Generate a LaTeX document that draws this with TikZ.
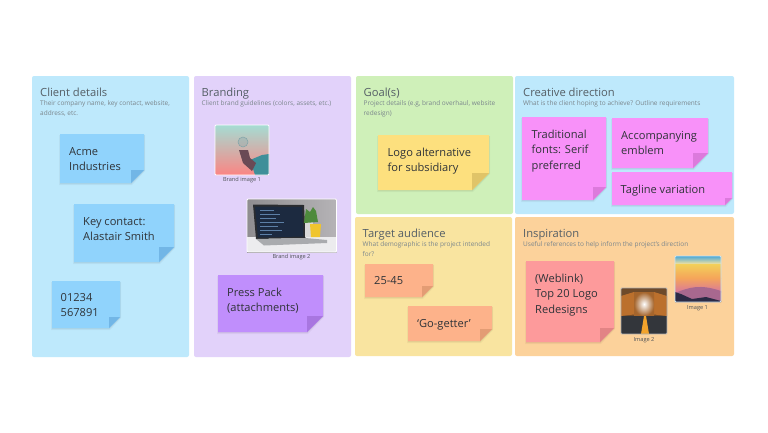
\documentclass[tikz,border=0pt]{standalone}
\usepackage{fontspec}
\setmainfont{Open Sans}
\definecolor{pblue}{HTML}{BEE9FC}
\definecolor{ppurple}{HTML}{E2D2FA}
\definecolor{pgreen}{HTML}{CFF0B9}
\definecolor{pyellow}{HTML}{F9E4A0}
\definecolor{porange}{HTML}{FCD29B}
\definecolor{nblue}{HTML}{90D3FC}
\definecolor{nblued}{HTML}{72B6E6}
\definecolor{npurple}{HTML}{C08EFC}
\definecolor{npurpled}{HTML}{A876E0}
\definecolor{nyellow}{HTML}{FDE07E}
\definecolor{nyellowd}{HTML}{E0C468}
\definecolor{npink}{HTML}{F891F9}
\definecolor{npinkd}{HTML}{DC7ADC}
\definecolor{npeach}{HTML}{FDB28A}
\definecolor{npeachd}{HTML}{E39C74}
\definecolor{nred}{HTML}{FD9A9B}
\definecolor{nredd}{HTML}{E28485}
\definecolor{ttl}{HTML}{555F66}
\definecolor{subt}{HTML}{7B868C}
\definecolor{ink}{HTML}{2F3338}
% picture colours
\definecolor{iteal}{HTML}{A5DCD3}
\definecolor{imid}{HTML}{E8C4BC}
\definecolor{icoral}{HTML}{FB8583}
\definecolor{iarm}{HTML}{3E8F99}
\definecolor{ihand}{HTML}{6A4A55}
\definecolor{ibulb}{HTML}{7FA3A8}
\definecolor{iwalll}{HTML}{8F8D90}
\definecolor{iwallr}{HTML}{B5B3B6}
\definecolor{idesk}{HTML}{ECECEE}
\definecolor{ilap}{HTML}{2A2C30}
\definecolor{iscreen}{HTML}{1C2A40}
\definecolor{icode}{HTML}{5C7FA6}
\definecolor{ibase}{HTML}{A9ABAE}
\definecolor{iplant}{HTML}{4E8A3C}
\definecolor{ipot}{HTML}{F0C52E}
\definecolor{iskyt}{HTML}{4BA8D8}
\definecolor{iskya}{HTML}{F3D05A}
\definecolor{iskyb}{HTML}{F5A55A}
\definecolor{ihill}{HTML}{D9789A}
\definecolor{ihilld}{HTML}{A8688F}
\definecolor{imtn}{HTML}{2C2A45}
\definecolor{itrees}{HTML}{6E4A2A}
\definecolor{ileaf}{HTML}{C9772E}
\definecolor{iroad}{HTML}{33363B}
\definecolor{iline}{HTML}{F2A32C}
\tikzset{
  x=1pt,y=-1pt,
  panel/.style={rounded corners=2pt,draw=none},
  paneltitle/.style={anchor=base west,inner sep=0pt,font=\fontsize{11.2}{14}\selectfont,text=ttl},
  panelsub/.style={anchor=north west,inner sep=0pt,align=left,font=\fontsize{6.5}{9.4}\selectfont,text=subt},
  notetext/.style={anchor=north west,inner sep=0pt,align=left,font=\fontsize{11.1}{15.2}\selectfont,text=ink},
  caption/.style={inner sep=0pt,font=\fontsize{5.6}{6}\selectfont,text=ink!85},
  frame/.style={draw=white,line width=.8pt,rounded corners=1pt},
}
% #1 name, #2 x0, #3 y0, #4 x1, #5 y1, #6 fill, #7 fold colour, #8 fold size
\newcommand{\stickynote}[8]{%
  \fill[black,opacity=.04] (#2-1,#3+1) -- (#4+1,#3+1) -- (#4+1,#5-#8+1) -- (#4-#8+1,#5+2) -- (#2-1,#5+2) -- cycle;
  \fill[black,opacity=.05] (#2,#3+1) -- (#4+.5,#3+1) -- (#4+.5,#5-#8+.5) -- (#4-#8+.5,#5+1) -- (#2,#5+1) -- cycle;
  \path[fill=#6] (#2,#3) -- (#4,#3) -- (#4,#5-#8) -- (#4-#8,#5) -- (#2,#5) -- cycle;
  \path[fill=#7] (#4,#5-#8) -- (#4-#8,#5-#8) -- (#4-#8,#5) -- cycle;
  \coordinate (#1) at (#2,#3);
}
\begin{document}
\begin{tikzpicture}
\useasboundingbox[fill=white] (0,0) rectangle (768,432);
% panels
\fill[panel,pblue] (32,76) rectangle (189,357);
\fill[panel,ppurple] (194,76) rectangle (351,357);
\fill[panel,pgreen] (356,76) rectangle (513,214);
\fill[panel,pblue] (515,76) rectangle (734,214);
\fill[panel,pyellow] (355,217) rectangle (512,356);
\fill[panel,porange] (515,217) rectangle (734,356);
% titles
\node[paneltitle] (t1) at (40,96) {Client details};
\node[panelsub] (s1) at (40,100.5) {Their company name, key contact, website,\\address, etc.};
\node[paneltitle] (t2) at (201.5,96) {Branding};
\node[panelsub] (s2) at (201.5,100.5) {Client brand guidelines (colors, assets, etc.)};
\node[paneltitle] (t3) at (363.5,96) {Goal(s)};
\node[panelsub] (s3) at (363.5,100.5) {Project details (e.g, brand overhaul, website\\redesign)};
\node[paneltitle] (t4) at (523,96) {Creative direction};
\node[panelsub] (s4) at (523,100.5) {What is the client hoping to achieve? Outline requirements};
\node[paneltitle] (t5) at (362.5,237) {Target audience};
\node[panelsub] (s5) at (362.5,241.5) {What demographic is the project intended\\for?};
\node[paneltitle] (t6) at (523,237) {Inspiration};
\node[panelsub] (s6) at (523,241.5) {Useful references to help inform the project's direction};
% notes
\stickynote{n1}{60}{134}{144}{183}{nblue}{nblued}{13}
\node[notetext] at (69,147) {Acme\\Industries};
\stickynote{n2}{74}{204}{174}{262}{nblue}{nblued}{15}
\node[notetext] at (83,217.5) {Key contact:\\Alastair Smith};
\stickynote{n3}{52}{281}{120}{328}{nblue}{nblued}{11}
\node[notetext] at (60.5,293.5) {01234\\567891};
\stickynote{n4}{218}{275}{323}{332}{npurple}{npurpled}{16}
\node[notetext] at (227,287.5) {Press Pack\\(attachments)};
\stickynote{n5}{378}{135}{489}{190}{nyellow}{nyellowd}{17}
\node[notetext] at (387.5,148) {Logo alternative\\for subsidiary};
\stickynote{n6}{522}{117}{606}{200}{npink}{npinkd}{13}
\node[notetext] at (531.5,130) {Traditional\\fonts: Serif\\preferred};
\stickynote{n7}{612}{118}{708}{168}{npink}{npinkd}{15}
\node[notetext] at (621,131) {Accompanying\\emblem};
\stickynote{n8}{612}{172}{732}{205}{npink}{npinkd}{7}
\node[notetext] at (620.5,184.5) {Tagline variation};
\stickynote{n9}{365}{264}{433}{297}{npeach}{npeachd}{11}
\node[notetext] at (374,276.5) {25-45};
\stickynote{n10}{408}{306}{492}{341}{npeach}{npeachd}{12}
\node[notetext] at (417,319) {‘Go-getter’};
\stickynote{n11}{526}{261}{614}{342}{nred}{nredd}{14}
\node[notetext] at (535,274) {(Weblink)\\Top 20 Logo\\Redesigns};
% Brand image 1
\begin{scope}
\clip[rounded corners=1pt] (215,125) rectangle (269,175);
\shade[top color=iteal,middle color=imid,bottom color=icoral] (215,125) rectangle (269,175);
\fill[iarm] (250,160) -- (262,155) -- (269,154) -- (269,175) -- (255,175) -- cycle;
\fill[ihand] (239,150) -- (248,150) -- (250,158) -- (256,163) -- (252,171) -- (243,163) -- cycle;
\fill[ibulb,opacity=.3] (243,142) circle (5);
\draw[ibulb,line width=.5pt] (243,142) circle (5);
\end{scope}
\draw[frame] (215,125) rectangle (269,175);
\node[caption] (c1) at (242,180.5) {Brand image 1};
% Brand image 2
\begin{scope}
\clip (247,199) rectangle (336.5,252);
\shade[left color=iwalll,right color=iwallr] (247,199) rectangle (336.5,252);
\fill[idesk] (247,237) rectangle (336.5,252);
\fill[ilap] (253,204.5) -- (304,205) -- (305.5,238) -- (256,239) -- cycle;
\fill[iscreen] (255,206.5) -- (302,207) -- (303.5,236.5) -- (258,237.5) -- cycle;
\foreach \yy/\ww in {210/14,214/20,218/16,222/24,226/18,230/22,234/12}{\draw[icode,line width=.5pt] (260,\yy) -- ++(\ww,0);}
\fill[ibase] (256,239) -- (305.5,238) -- (327,240) -- (327,243) -- (264,245.5) -- cycle;
\fill[white!85!black] (305,222) rectangle (313,237);
\fill[iplant] (304,223) -- (306,209) -- (310,212) -- (313,207) -- (316,211) -- (318,222) -- cycle;
\fill[ipot] (310,224) -- (321,224) -- (320,237) -- (311,237) -- cycle;
\end{scope}
\draw[frame] (247,199) rectangle (336.5,252);
\node[caption] (c2) at (291.5,257.5) {Brand image 2};
% Image 1
\begin{scope}
\clip (675,256) rectangle (721,302);
\shade[top color=iskyt,bottom color=white!40!iskya] (675,256) rectangle (721,264);
\shade[top color=iskya,bottom color=iskyb] (675,264) rectangle (721,278);
\shade[top color=iskyb,bottom color=ihill] (675,278) rectangle (721,292);
\fill[ihilld] (675,293) .. controls (690,287) and (700,284) .. (721,291) -- (721,302) -- (675,302) -- cycle;
\fill[imtn] (675,292) -- (681,294) -- (692,299) -- (706,297) -- (721,301) -- (721,302) -- (675,302) -- cycle;
\end{scope}
\draw[frame,draw=white!70!iskyt] (675,256) rectangle (721,302);
\node[caption] (c3) at (697.5,308) {Image 1};
% Image 2
\begin{scope}
\clip (621,288) rectangle (667,334);
\fill[itrees] (621,288) rectangle (667,316);
\fill[ileaf!85!itrees] (621,296) -- (634,292) -- (638,314) -- (621,316) -- cycle;
\fill[ileaf!85!itrees] (667,296) -- (654,292) -- (650,314) -- (667,316) -- cycle;
\shade[inner color=white,outer color=ileaf!60!itrees] (634,292) rectangle (654,316);
\fill[iroad] (621,316) rectangle (667,334);
\fill[iline] (644,316) -- (646,316) -- (649,334) -- (641,334) -- cycle;
\end{scope}
\draw[frame,draw=white!60!iroad] (621,288) rectangle (667,334);
\node[caption] (c4) at (644,340) {Image 2};
\end{tikzpicture}
\end{document}
